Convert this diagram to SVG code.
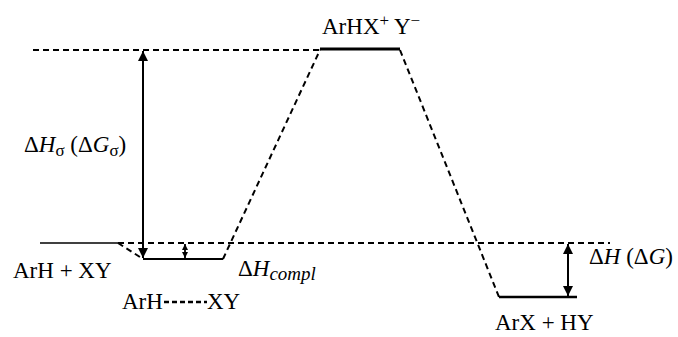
<svg xmlns="http://www.w3.org/2000/svg" width="678" height="337" viewBox="0 0 678 337">
<defs>
<style>
.lvl{stroke:#000;fill:none}
.dsh{stroke:#000;stroke-width:2;fill:none;stroke-dasharray:6 4}
.arr{stroke:#000;fill:none}
text{font-family:'Liberation Serif','Times New Roman','DejaVu Serif',serif;font-size:23px;fill:#000}
.it{font-style:italic}
</style>
<marker id="ah" viewBox="0 0 10 10" refX="10" refY="5" markerWidth="5" markerHeight="7" markerUnits="strokeWidth" orient="auto-start-reverse">
<path d="M0,0 L10,5 L0,10 z" fill="#000"/>
</marker>
<marker id="ahs" viewBox="0 0 10 10" refX="10" refY="5" markerWidth="3.5" markerHeight="4" markerUnits="strokeWidth" orient="auto-start-reverse">
<path d="M0,0 L10,5 L0,10 z" fill="#000"/>
</marker>
</defs>
<rect width="678" height="337" fill="#fff"/>
<g id="connectors">
<line class="dsh" x1="33" y1="50" x2="320" y2="50"/>
<line class="dsh" x1="118" y1="243" x2="610" y2="243"/>
<line class="dsh" x1="118" y1="243" x2="143" y2="259"/>
<line class="dsh" x1="223" y1="259" x2="320" y2="50"/>
<line class="dsh" x1="400" y1="50" x2="499" y2="297"/>
<line class="arr" stroke-width="2" x1="143" y1="51" x2="143" y2="258" marker-start="url(#ah)" marker-end="url(#ah)"/>
<line class="arr" stroke-width="1.8" x1="185" y1="244" x2="185" y2="258" marker-start="url(#ahs)" marker-end="url(#ahs)"/>
<line class="arr" stroke-width="2" x1="568" y1="244" x2="568" y2="296" marker-start="url(#ah)" marker-end="url(#ah)"/>
</g>
<g id="reactants">
<line class="lvl" stroke-width="1.5" x1="40" y1="243" x2="118" y2="243"/>
<text x="13" y="278">ArH + XY</text>
</g>
<g id="complex">
<line class="lvl" stroke-width="2" x1="143" y1="259" x2="223" y2="259"/>
<text x="122" y="309">ArH</text>
<line x1="164" y1="302" x2="207" y2="302" stroke="#000" stroke-width="2.5" stroke-dasharray="5 3"/>
<text x="207" y="309">XY</text>
<text x="238" y="276">Δ<tspan class="it">H</tspan><tspan class="it" font-size="19" dy="4">compl</tspan></text>
</g>
<g id="intermediate">
<line class="lvl" stroke-width="3" x1="320" y1="49" x2="400" y2="49"/>
<text x="322" y="34">ArHX<tspan font-size="17" dy="-8">+</tspan><tspan dy="8"> Y</tspan><tspan font-size="17" dy="-8">−</tspan></text>
</g>
<g id="products">
<line class="lvl" stroke-width="2.5" x1="499" y1="297" x2="577" y2="297"/>
<text x="495" y="330">ArX + HY</text>
</g>
<g id="labels">
<text x="24" y="152">Δ<tspan class="it">H</tspan><tspan font-size="17" dy="4">σ</tspan><tspan dy="-4"> (Δ</tspan><tspan class="it">G</tspan><tspan font-size="17" dy="4">σ</tspan><tspan dy="-4">)</tspan></text>
<text x="589" y="264">Δ<tspan class="it">H</tspan> (Δ<tspan class="it">G</tspan>)</text>
</g>
</svg>
